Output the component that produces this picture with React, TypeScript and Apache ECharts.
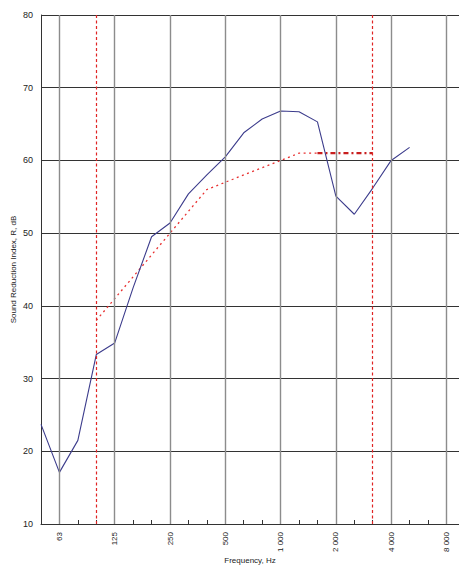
import React, { useEffect, useRef } from 'react';
import * as echarts from 'echarts';

// third-octave band centre frequencies (index 0 = 50 Hz)
const bands = ['50', '63', '80', '100', '125', '160', '200', '250', '315', '400', '500', '630', '800', '1000', '1250', '1600', '2000', '2500', '3150', '4000', '5000', '6300', '8000'];
// measured sound reduction index R, dB (50 Hz .. 5000 Hz)
const measured = [23.7, 17.1, 21.5, 33.3, 34.9, 42.5, 49.5, 51.4, 55.4, 58.0, 60.5, 63.8, 65.7, 66.8, 66.7, 65.3, 55.1, 52.6, 56.2, 60.0, 61.8];
// shifted reference curve (100 Hz .. 3150 Hz)
const refStartIndex = 3;
const reference = [38, 41, 44, 47, 50, 53, 56, 57, 58, 59, 60, 61, 61, 61, 61, 61];
const refThickFrom = 15; // band index where the thick dashed part starts
// octave band indices with grid lines and labels
const octaveIdx = [1, 4, 7, 10, 13, 16, 19, 22];
const octaveLabels = ['63', '125', '250', '500', '1 000', '2 000', '4 000', '8 000'];
// evaluation range limits (100 Hz and 3150 Hz)
const limitIdx = [3, 18];

const FONT = 'Liberation Sans, Arial, sans-serif';

export default function App() {
  const ref = useRef<HTMLDivElement>(null);
  useEffect(() => {
    document.body.style.margin = '0';
    const chart = echarts.init(ref.current!, null, { renderer: 'svg' });
    const measuredData = measured.map((v, i) => [i, v]);
    const refData = reference.map((v, i) => [i + refStartIndex, v]);
    const refThin = refData.filter((d) => d[0] <= refThickFrom);
    const refThick = refData.filter((d) => d[0] >= refThickFrom);
    const labelMap: Record<number, string> = {};
    octaveIdx.forEach((i, k) => (labelMap[i] = octaveLabels[k]));

    chart.setOption({
      animation: false,
      textStyle: { fontFamily: FONT },
      grid: { left: 41, right: 0, top: 15, bottom: 43, outerBoundsMode: 'none', containLabel: false },
      xAxis: {
        type: 'value',
        min: 0,
        max: 22.68,
        interval: 1,
        name: 'Frequency, Hz',
        nameLocation: 'middle',
        nameGap: 32,
        nameMoveOverlap: false,
        nameTextStyle: { fontSize: 8, color: '#222', fontFamily: FONT },
        axisLine: { show: true, lineStyle: { color: '#333', width: 1 } },
        axisTick: { show: true, inside: true, length: 4, lineStyle: { color: '#333', width: 1 } },
        axisLabel: {
          rotate: 90,
          fontSize: 8,
          color: '#222',
          margin: 8,
          fontFamily: FONT,
          showMaxLabel: false,
          formatter: (v: number) => labelMap[Math.round(v * 1000) / 1000] ?? '',
        },
        splitLine: { show: false },
      },
      yAxis: {
        type: 'value',
        min: 10,
        max: 80,
        interval: 10,
        name: 'Sound Reduction Index, R, dB',
        nameLocation: 'middle',
        nameRotate: 90,
        nameGap: 24,
        nameMoveOverlap: false,
        nameTextStyle: { fontSize: 8, color: '#222', fontFamily: FONT },
        axisLine: { show: true, lineStyle: { color: '#333', width: 1 } },
        axisTick: { show: false },
        axisLabel: { fontSize: 9, color: '#222', margin: 8, fontFamily: FONT },
        splitLine: { show: true, lineStyle: { color: '#333', width: 1 } },
      },
      series: [
        {
          type: 'line',
          data: [],
          z: 1,
          silent: true,
          markLine: {
            silent: true,
            symbol: 'none',
            label: { show: false },
            lineStyle: { color: '#8c8c8c', width: 1.4, type: 'solid' },
            emphasis: { disabled: true },
            data: octaveIdx.map((i) => ({ xAxis: i })),
          },
        },
        {
          type: 'line',
          data: refThin,
          z: 2,
          symbol: 'none',
          silent: true,
          lineStyle: { color: '#e83030', width: 1.3, type: [2, 3.5] },
          markLine: {
            silent: true,
            symbol: 'none',
            label: { show: false },
            lineStyle: { color: '#e02424', width: 1.2, type: [3, 2.5] },
            emphasis: { disabled: true },
            data: limitIdx.map((i) => ({ xAxis: i })),
          },
        },
        {
          type: 'line',
          data: refThick,
          z: 2,
          symbol: 'none',
          silent: true,
          lineStyle: { color: '#c81e1e', width: 2.2, type: [5, 3, 2, 3] },
        },
        {
          type: 'line',
          data: measuredData,
          z: 3,
          symbol: 'none',
          silent: true,
          lineStyle: { color: '#3c3c8c', width: 1.1 },
        },
      ],
    });
    return () => chart.dispose();
  }, []);
  return <div ref={ref} style={{ width: 459, height: 567 }} />;
}
